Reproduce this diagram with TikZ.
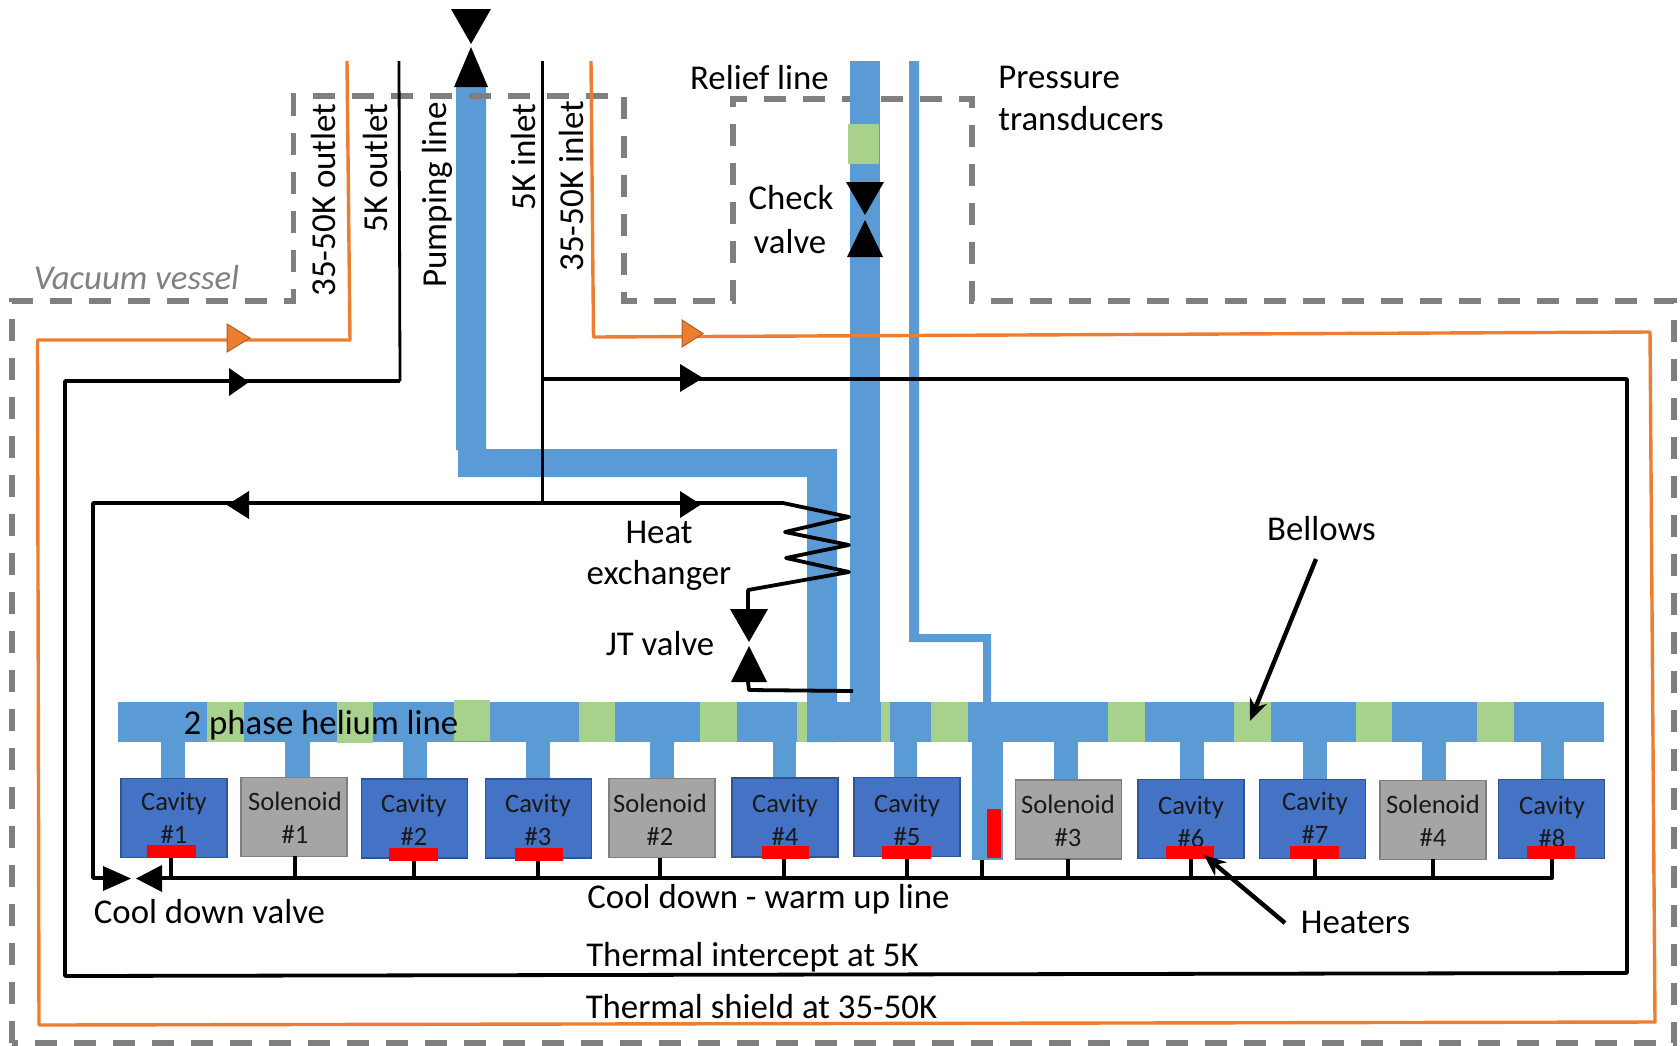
\documentclass[tikz,border=0pt]{standalone}
\usepackage{fontspec}
\setmainfont{Carlito}
\usetikzlibrary{arrows.meta}
\definecolor{pipeblue}{HTML}{5B9BD5}
\definecolor{bellowgreen}{HTML}{A9D18E}
\definecolor{cavblue}{HTML}{4472C4}
\definecolor{cavedge}{HTML}{2F5597}
\definecolor{solgray}{HTML}{A5A5A5}
\definecolor{soledge}{HTML}{7F7F7F}
\definecolor{shield}{HTML}{ED7D31}
\definecolor{vessel}{HTML}{7F7F7F}
\tikzset{
  pipe/.style={fill=pipeblue,draw=none},
  bellow/.style={fill=bellowgreen,draw=none},
  heater/.style={fill=red,draw=none},
  valvetip/.style={fill=black,draw=none},
  orangetip/.style={fill=shield,draw=shield!75!black,line width=0.5pt},
  vesselline/.style={draw=vessel,line width=2.7pt,dash pattern=on 11pt off 8.5pt},
  shieldline/.style={draw=shield,line width=1.7pt,line join=round},
  cold/.style={draw=black,line width=1.9pt,line join=round},
  thin cold/.style={draw=black,line width=1.4pt,line join=round},
  tick/.style={draw=black,line width=1.6pt},
  leader/.style={draw=black,line width=2.2pt,-{Stealth[length=11pt,width=9pt]}},
  cavbox/.style={fill=cavblue,draw=cavedge,line width=0.7pt,minimum width=53pt,minimum height=39.5pt,inner sep=0pt},
  solbox/.style={fill=solgray,draw=soledge,line width=0.7pt,minimum width=53pt,minimum height=39.5pt,inner sep=0pt},
  boxlabel/.style={font=\fontsize{13.3}{16.5}\selectfont,align=center,text=black!90,inner sep=0pt},
  lab/.style={font=\fontsize{17.4}{20}\selectfont,text=black,inner sep=0pt},
  vlab/.style={lab,rotate=90,font=\fontsize{17.5}{20}\selectfont},
}
\begin{document}
\begin{tikzpicture}[x=0.5pt,y=-0.5pt]
\useasboundingbox (0,0) rectangle (1680,1045);
% pumping line and central block
\fill[pipe] (456,87) -- (486,87) -- (486,449) -- (837,449) -- (837,742) -- (807,742) -- (807,477) -- (458,477) -- (458,450) -- (456,450) -- cycle;
% vessel outline
\draw[vesselline] (12,1043) -- (12,301) -- (293.5,301) -- (293.5,96) -- (624,96) -- (624,301) -- (733,301) -- (733,99) -- (972,99) -- (972,301) -- (1674,301) -- (1674,1043) -- cycle;
% helium bar
\fill[pipe] (118,702) rectangle (1604,742);
\fill[bellow] (207,702) rectangle (244,742);
\fill[bellow] (337,702) rectangle (373,743);
\fill[bellow] (454,700) rectangle (490,741);
\fill[bellow] (579,702) rectangle (615,742);
\fill[bellow] (700,702) rectangle (737,742);
\fill[bellow] (797,702) rectangle (807,742);
\fill[bellow] (881,702) rectangle (890,742);
\fill[bellow] (931,702) rectangle (968,742);
\fill[bellow] (1108,702) rectangle (1145,742);
\fill[bellow] (1234,702) rectangle (1271,742);
\fill[bellow] (1356,702) rectangle (1392,742);
\fill[bellow] (1477,702) rectangle (1514,742);
% relief line, centre block, transducer line
\fill[pipe] (807,702) rectangle (837,742);
\fill[pipe] (850,61) rectangle (880,742);
\fill[pipe] (837,702) -- (880,702) -- (880,742) -- (837,742) -- cycle;
\fill[bellow] (848,124) rectangle (879,164);
\fill[pipe] (909,61) -- (919,61) -- (919,634) -- (991,634) -- (991,702) -- (983,702) -- (983,642) -- (909,642) -- cycle;
% stubs
\fill[pipe] (161,742) rectangle (185,779);
\fill[pipe] (285,742) rectangle (310,779);
\fill[pipe] (403,742) rectangle (427,780);
\fill[pipe] (526,742) rectangle (550,780);
\fill[pipe] (650,742) rectangle (674,779);
\fill[pipe] (773,742) rectangle (796,779);
\fill[pipe] (894,742) rectangle (917,779);
\fill[pipe] (972,742) rectangle (1003,860);
\fill[pipe] (1054,742) rectangle (1078,781);
\fill[pipe] (1180,742) rectangle (1204,781);
\fill[pipe] (1303,742) rectangle (1327,781);
\fill[pipe] (1422,742) rectangle (1446,782);
\fill[pipe] (1541,742) rectangle (1564,781);
% boxes
\node[cavbox] (cav1) at (174,818) {};
\node[solbox] (sol1) at (294,817) {};
\node[cavbox] (cav2) at (414.5,818.5) {};
\node[cavbox] (cav3) at (538.5,818.5) {};
\node[solbox] (sol2) at (662,818) {};
\node[cavbox] (cav4) at (785,817.5) {};
\node[cavbox] (cav5) at (907,817) {};
\node[solbox] (sol3) at (1068.5,819.5) {};
\node[cavbox] (cav6) at (1191,819) {};
\node[cavbox] (cav7) at (1312.5,819) {};
\node[solbox] (sol4) at (1433,820) {};
\node[cavbox] (cav8) at (1551.5,819) {};
\node[boxlabel] (lc1) at (174,817.5) {Cavity\\\#1};
\node[boxlabel] (ls1) at (295,818) {Solenoid\\\#1};
\node[boxlabel] (lc2) at (414,820) {Cavity\\\#2};
\node[boxlabel] (lc3) at (538,820) {Cavity\\\#3};
\node[boxlabel] (ls2) at (660,820) {Solenoid\\\#2};
\node[boxlabel] (lc4) at (785,820) {Cavity\\\#4};
\node[boxlabel] (lc5) at (907,820) {Cavity\\\#5};
\node[boxlabel] (ls3) at (1068,821) {Solenoid\\\#3};
\node[boxlabel] (lc6) at (1191,821.5) {Cavity\\\#6};
\node[boxlabel] (lc7) at (1315,817.5) {Cavity\\\#7};
\node[boxlabel] (ls4) at (1433,821) {Solenoid\\\#4};
\node[boxlabel] (lc8) at (1552,821.5) {Cavity\\\#8};
% cool-down line with ticks
\coordinate (cdstart) at (162,878);
\coordinate (cdend) at (1552,878);
\draw[cold] (cdstart) -- (cdend) -- (1552,858);
\draw[tick] (171,878) -- (171,858);
\draw[tick] (295,878) -- (295,856);
\draw[tick] (414,878) -- (414,858);
\draw[tick] (538,878) -- (538,858);
\draw[tick] (660,878) -- (660,858);
\draw[tick] (784,878) -- (784,857);
\draw[tick] (907,878) -- (907,856);
\draw[tick] (982,878) -- (982,860);
\draw[tick] (1068,878) -- (1068,859);
\draw[tick] (1191,878) -- (1191,858);
\draw[tick] (1315,878) -- (1315,858);
\draw[tick] (1433,878) -- (1433,859);
% heaters
\fill[heater] (147,845) rectangle (196,858);
\fill[heater] (389,848) rectangle (438,861);
\fill[heater] (515,848) rectangle (563,861);
\fill[heater] (762,846) rectangle (809,859);
\fill[heater] (882,846) rectangle (931,859);
\fill[heater] (987,809) rectangle (1001,858);
\fill[heater] (1166,846) rectangle (1214,859);
\fill[heater] (1290,846) rectangle (1339,859);
\fill[heater] (1527,846) rectangle (1575,859);
% thermal shield (orange)
\draw[shieldline] (347,61) -- (350,340) -- (37.5,340) -- (39,1025) -- (1655,1022) -- (1650,332) -- (593.5,337) -- (591,61);
\path[orangetip,draw] (227,324) -- (250,338) -- (227,352) -- cycle;
\path[orangetip,draw] (682,320) -- (703,333.5) -- (682,347) -- cycle;
% 5K circuit
\draw[thin cold] (399,61) -- (400,381);
\draw[cold] (400,381) -- (65,381) -- (65,976) -- (1627,973) -- (1627,379) -- (542,379);
\draw[thin cold] (542.5,61) -- (542.5,503);
\fill[valvetip] (229,368) -- (249,382) -- (229,396) -- cycle;
\fill[valvetip] (680,364) -- (703,378) -- (680,392) -- cycle;
% inlet to JT valve and heat exchanger
\draw[cold] (103,878) -- (93,878) -- (93,503) -- (783,503) -- (849,517) -- (785,532) -- (849,545) -- (786,558) -- (849,572) -- (748,590) -- (748,609);
\draw[cold] (748,682) -- (749,690) -- (853,691);
\fill[valvetip] (680,491) -- (701,504.5) -- (680,518) -- cycle;
\fill[valvetip] (249,491) -- (227,505) -- (249,519) -- cycle;
% valves
\fill[valvetip] (451,9) -- (491,9) -- (471,44) -- cycle;
\fill[valvetip] (454,87) -- (488,87) -- (471,47) -- cycle;
\fill[valvetip] (846,182) -- (884,182) -- (865,215) -- cycle;
\fill[valvetip] (847,257) -- (883,257) -- (865,220) -- cycle;
\fill[valvetip] (730,609) -- (768,609) -- (749,642) -- cycle;
\fill[valvetip] (731,682) -- (767,682) -- (749,646) -- cycle;
\fill[valvetip] (103,866) -- (131,878.5) -- (103,891) -- cycle;
\fill[valvetip] (162,865) -- (136,878.5) -- (162,892) -- cycle;
% labels
\node[lab,text=black!50,font=\fontsize{17.4}{20}\selectfont\itshape] (vv) at (136.5,278) {Vacuum vessel};
\node[vlab] (l35o) at (323,200) {35-50K outlet};
\node[vlab] (l5o) at (375,168) {5K outlet};
\node[vlab] (lpump) at (437,195) {Pumping line};
\node[vlab] (l5i) at (523,157) {5K inlet};
\node[vlab] (l35i) at (571.5,186) {35-50K inlet};
\node[lab] (relief) at (759.5,78) {Relief line};
\node[lab,anchor=west] (press) at (998,77) {Pressure};
\node[lab,anchor=west] (trans) at (998,119) {transducers};
\node[lab] (check) at (791,198) {Check};
\node[lab] (cvalve) at (790,242) {valve};
\node[lab] (heat) at (659,532) {Heat};
\node[lab] (exch) at (659,575) {exchanger};
\node[lab] (jt) at (660,644) {JT valve};
\node[lab] (twoph) at (321,725) {2 phase helium line};
\node[lab] (cdv) at (209.5,912) {Cool down valve};
\node[lab] (cdl) at (768.5,899) {Cool down - warm up line};
\node[lab] (ti) at (752.5,957) {Thermal intercept at 5K};
\node[lab] (ts) at (761.5,1007) {Thermal shield at 35-50K};
\node[lab] (heaters) at (1355.5,922) {Heaters};
\node[lab] (bellows) at (1321.5,529) {Bellows};
% leaders
\coordinate (bellowtip) at (1250,721);
\coordinate (heatertip) at (1204,855);
\draw[leader] (1316,559) -- (bellowtip);
\draw[leader] (1285,923) -- (heatertip);
\end{tikzpicture}
\end{document}
